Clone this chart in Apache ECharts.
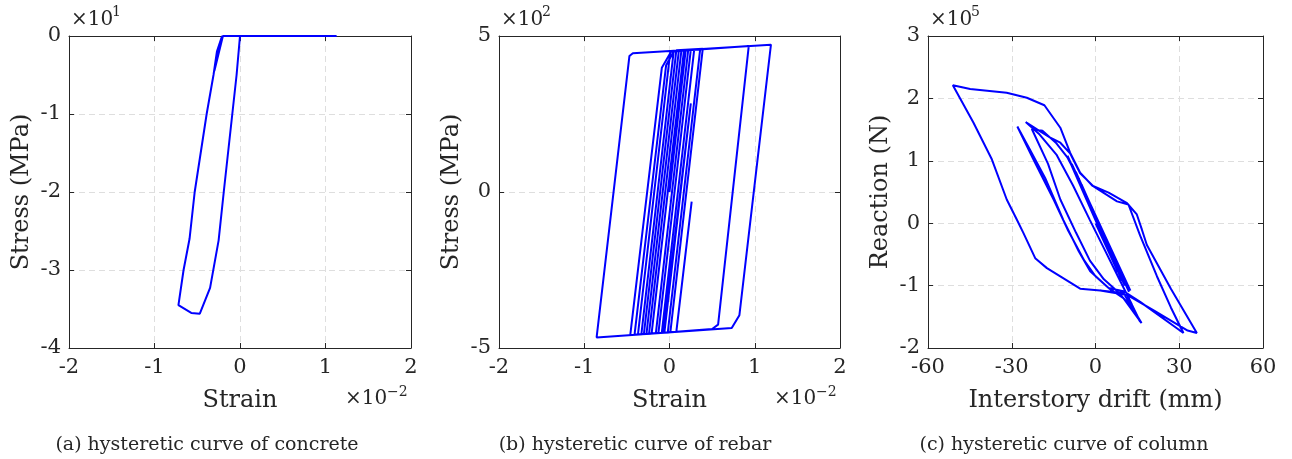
<!DOCTYPE html>
<html><head><meta charset="utf-8">
<script src="https://cdn.jsdelivr.net/npm/echarts@6.0.0/dist/echarts.min.js"></script>
<style>html,body{margin:0;padding:0;background:#fff}#c{width:1292px;height:459px}</style>
</head><body><div id="c"></div>
<script>
// ---- data (display units: strain x1e-2, stress x1e1 / x1e2 MPa, reaction x1e5 N) ----
const concreteStrain = [0.00, -0.20, -0.30, -0.21, -0.23, -0.27, -0.31, -0.39, -0.53, -0.59, -0.66, -0.72, -0.57, -0.47, -0.35, -0.25, -0.19, -0.09, -0.04, 0.00, 1.13];
const concreteStress = [0.00, 0.00, -0.45, 0.00, 0.00, -0.20, -0.50, -1.00, -2.00, -2.60, -3.00, -3.45, -3.55, -3.56, -3.23, -2.62, -2.00, -1.00, -0.50, 0.00, 0.00];

const rebarStrain = [0.00, 0.19, 0.22, -0.16, -0.24, 0.14, 0.25, -0.13, -0.27, 0.11, 0.29, -0.09, -0.30, 0.08, 0.39, 0.01, -0.06, 0.25, -0.07, -0.46, -0.09, 0.02, 0.93, 0.57, 0.50, 0.08, 0.26, 0.08, -0.41, -0.04, 0.05, 0.36, -0.02, -0.37, 0.01, 0.17, -0.21, -0.33, 0.05, 1.19, 0.82, 0.73, -0.855, -0.47, -0.43, 0.20];
const rebarStress = [0.00, 4.55, 4.56, -4.53, -4.54, 4.55, 4.56, -4.52, -4.55, 4.54, 4.57, -4.51, -4.55, 4.54, 4.59, -4.50, -4.51, 2.84, -4.51, -4.58, 3.98, 4.50, 4.68, -4.25, -4.39, -4.48, -0.31, -4.48, -4.57, 4.06, 4.50, 4.58, -4.50, -4.57, 4.52, 4.55, -4.54, -4.56, 4.53, 4.72, -3.95, -4.36, -4.66, 4.36, 4.45, 4.55];

const columnDrift = [0.0, 8.0, -6.0, 9.5, -8.0, 10.5, -4.5, 9.0, -9.0, 11.5, -7.0, 10.0, -10.0, 12.0, -5.0, 8.5, -9.5, 11.0, -3.5, 9.5, -8.5, 12.5, -6.5,
  -10.0, -14.0, -19.0, -22.8, -17.0, -12.6, -7.0, -2.0, 3.0, 8.0, 13.0, 16.0, 13.0, 8.0, 3.0, -2.0, -8.0, -14.0, -20.0, -25.0,
  -20.8, -16.2, -12.6, -9.1, -5.5, -0.7, 7.7, 11.8, 16.0, 22.0, 27.0, 31.5, 16.0, 10.0, 4.7, -1.9, -6.0, -11.5, -18.0, -24.0, -28.0,
  -22.0, -15.0, -10.0, -4.0, 0.0, 5.0, 10.0, 16.5, 10.0, 1.7, -5.5, -17.4, -21.6, -25.8, -28.2, -31.8, -37.1, -43.7, -51.1,
  -44.9, -31.8, -24.6, -18.3, -12.6, -9.1, -5.5, -1.1, 4.7, 11.3, 14.8, 16.6, 18.4, 27.0, 36.3, 33.0, 21.0, 11.3, 1.7];
const columnReaction = [0.0, -0.78, 0.72, -0.92, 0.88, -1.0, 0.55, -0.85, 0.98, -1.05, 0.82, -0.95, 1.08, -1.1, 0.62, -0.82, 1.02, -0.98, 0.45, -0.9, 0.95, -1.08, 0.75,
  1.05, 1.28, 1.48, 1.51, 0.95, 0.38, -0.15, -0.6, -0.9, -1.1, -1.35, -1.58, -1.3, -0.85, -0.4, 0.05, 0.6, 1.1, 1.42, 1.62,
  1.5, 1.37, 1.29, 1.12, 0.8, 0.59, 0.35, 0.3, -0.2, -0.85, -1.35, -1.76, -1.26, -1.09, -1.04, -0.77, -0.45, 0.05, 0.72, 1.22, 1.55,
  1.0, 0.38, -0.1, -0.6, -0.85, -1.05, -1.2, -1.6, -1.12, -1.08, -1.05, -0.72, -0.56, -0.16, 0.06, 0.38, 1.02, 1.61, 2.21,
  2.15, 2.09, 2.01, 1.89, 1.53, 1.13, 0.81, 0.6, 0.49, 0.32, 0.14, -0.1, -0.35, -1.05, -1.76, -1.72, -1.4, -1.15, -1.08];

const xTicksAB = { min: -2, max: 2, interval: 1 };
const yTicksA = { min: -4, max: 0, interval: 1 };
const yTicksB = { min: -5, max: 5, interval: 5 };
const xTicksC = { min: -60, max: 60, interval: 30 };
const yTicksC = { min: -2, max: 3, interval: 1 };

const xNames = ['Strain', 'Strain', 'Interstory drift (mm)'];
const yNames = ['Stress (MPa)', 'Stress (MPa)', 'Reaction (N)'];
const topExp = ['1', '2', '5'];
const bottomExp = ['\u22122', '\u22122', null];
const captions = ['(a) hysteretic curve of concrete', '(b) hysteretic curve of rebar', '(c) hysteretic curve of column'];

// ---- layout ----
const FONT = 'DejaVu Serif';
const TXT = '#262626';
const grids = [
  { left: 69, top: 36, width: 342, height: 312 },
  { left: 499, top: 36, width: 341, height: 312 },
  { left: 928, top: 36, width: 335, height: 312 }
];
const captionX = [207, 635, 1064];

function zip(a, b) { return a.map((v, i) => [v, b[i]]); }

const xAxes = [], yAxes = [];
const xt = [xTicksAB, xTicksAB, xTicksC];
const yt = [yTicksA, yTicksB, yTicksC];
grids.forEach((g, i) => {
  const tick = { show: true, inside: true, length: 5, lineStyle: { color: TXT, width: 1 } };
  const line = { show: true, onZero: false, lineStyle: { color: TXT, width: 1 } };
  xAxes.push({
    gridIndex: i, type: 'value', position: 'bottom', min: xt[i].min, max: xt[i].max, interval: xt[i].interval,
    axisLine: line, axisTick: tick,
    axisLabel: { fontFamily: FONT, fontSize: 21, color: TXT, margin: 9 },
    splitLine: { show: true, lineStyle: { color: '#dedede', width: 1, type: [6, 4] } },
    name: xNames[i], nameLocation: 'middle', nameGap: 41,
    nameTextStyle: { fontFamily: FONT, fontSize: 24, color: TXT }
  });
  xAxes.push({
    gridIndex: i, type: 'value', position: 'top', min: xt[i].min, max: xt[i].max, interval: xt[i].interval,
    axisLine: line, axisTick: tick, axisLabel: { show: false }, splitLine: { show: false }
  });
  yAxes.push({
    gridIndex: i, type: 'value', position: 'left', min: yt[i].min, max: yt[i].max, interval: yt[i].interval,
    axisLine: line, axisTick: tick,
    axisLabel: { fontFamily: FONT, fontSize: 21, color: TXT, margin: 8 },
    splitLine: { show: true, lineStyle: { color: '#dedede', width: 1, type: [6, 4] } },
    name: yNames[i], nameLocation: 'middle', nameGap: 35, nameRotate: 90,
    nameTextStyle: { fontFamily: FONT, fontSize: 24, color: TXT }
  });
  yAxes.push({
    gridIndex: i, type: 'value', position: 'right', min: yt[i].min, max: yt[i].max, interval: yt[i].interval,
    axisLine: line, axisTick: tick, axisLabel: { show: false }, splitLine: { show: false }
  });
});

const seriesData = [zip(concreteStrain, concreteStress), zip(rebarStrain, rebarStress), zip(columnDrift, columnReaction)];
const series = seriesData.map((d, i) => ({
  type: 'line', xAxisIndex: i * 2, yAxisIndex: i * 2, data: d,
  showSymbol: false, symbol: 'none', clip: false, silent: true,
  lineStyle: { color: '#0000ff', width: 2 }, z: 5
}));

const graphics = [];
grids.forEach((g, i) => {
  graphics.push({ type: 'text', left: g.left + 2, top: 10, style: { text: '\u00d710', font: '20px "' + FONT + '"', fill: TXT } });
  graphics.push({ type: 'text', left: g.left + 43, top: 5, style: { text: topExp[i], font: '14px "' + FONT + '"', fill: TXT } });
  if (bottomExp[i]) {
    graphics.push({ type: 'text', left: g.left + g.width - 66, top: 389, style: { text: '\u00d710', font: '20px "' + FONT + '"', fill: TXT } });
    graphics.push({ type: 'text', left: g.left + g.width - 24, top: 385, style: { text: bottomExp[i], font: '14px "' + FONT + '"', fill: TXT } });
  }
  graphics.push({ type: 'text', x: captionX[i], y: 445, style: { text: captions[i], font: '19px "' + FONT + '"', fill: TXT, textAlign: 'center', textVerticalAlign: 'middle' } });
});

const chart = echarts.init(document.getElementById('c'), null, { renderer: 'canvas' });
chart.setOption({
  animation: false,
  backgroundColor: '#ffffff',
  grid: grids.map(g => Object.assign({ containLabel: false }, g)),
  xAxis: xAxes, yAxis: yAxes, series: series, graphic: graphics
});
</script></body></html>
